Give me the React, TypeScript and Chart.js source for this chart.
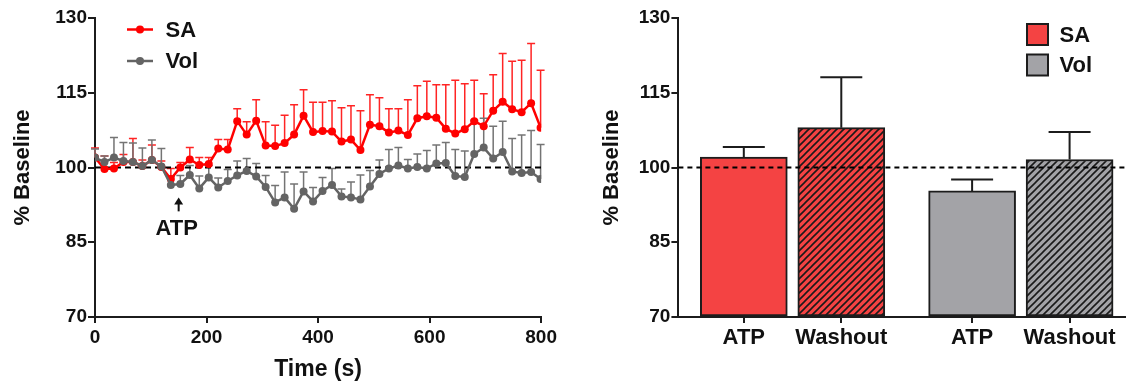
import React, { useEffect, useRef } from 'react';
import { Chart, registerables } from 'chart.js';

Chart.register(...registerables);

// ---------- Data: time course (left panel) ----------
const timeSec = [
  0, 17, 34, 51, 68, 85, 102, 119, 136, 153, 170, 187, 204, 221, 238, 255,
  272, 289, 306, 323, 340, 357, 374, 391, 408, 425, 442, 459, 476, 493, 510, 527,
  544, 561, 578, 595, 612, 629, 646, 663, 680, 697, 714, 731, 748, 765, 782, 799,
];
const saMean = [
  102.0, 99.7, 99.8, 101.1, 101.1, 100.3, 101.5, 100.1, 97.7, 100.0, 101.6, 100.5, 100.7, 103.8, 103.6, 109.3,
  106.6, 109.4, 104.4, 104.3, 104.9, 106.6, 110.4, 107.1, 107.3, 107.2, 105.2, 105.6, 103.5, 108.6, 108.3, 107.0,
  107.4, 106.5, 109.9, 110.3, 110.0, 107.8, 106.8, 107.7, 109.3, 108.3, 111.4, 113.2, 111.7, 111.1, 112.9, 108.0,
];
const saErr = [
  1.9, 2.6, 1.2, 1.5, 4.7, 1.2, 3.0, 1.2, 2.1, 1.0, 2.4, 1.5, 1.3, 1.8, 2.0, 2.5,
  2.6, 4.2, 4.8, 4.2, 5.6, 6.0, 5.2, 6.0, 5.8, 6.2, 6.8, 6.8, 7.9, 6.0, 5.7, 4.8,
  4.4, 7.1, 6.5, 7.0, 6.6, 8.8, 10.7, 9.1, 8.2, 6.5, 7.2, 9.7, 9.6, 10.4, 12.0, 11.5,
];
const volMean = [
  102.0, 101.1, 102.0, 101.3, 101.1, 100.3, 101.5, 100.2, 96.5, 96.7, 98.5, 95.8, 98.0, 96.0, 97.3, 98.4,
  99.3, 98.2, 96.1, 93.0, 94.0, 91.7, 95.2, 93.2, 95.3, 96.5, 94.2, 94.0, 93.6, 96.2, 98.7, 99.8,
  100.4, 99.8, 100.1, 99.8, 100.8, 100.9, 98.3, 98.1, 102.7, 104.0, 101.8, 103.1, 99.2, 98.9, 99.1, 97.7,
];
const volErr = [
  1.7, 1.2, 4.0, 3.7, 3.8, 3.6, 4.0, 3.6, 1.7, 1.7, 1.9, 2.5, 2.4, 1.9, 2.3, 2.9,
  2.5, 2.6, 2.3, 3.4, 5.1, 5.0, 3.9, 2.8, 2.7, 3.3, 1.5, 3.1, 4.9, 3.2, 2.8, 3.8,
  3.6, 1.8, 2.6, 3.6, 3.7, 4.1, 5.3, 5.2, 6.8, 5.9, 6.5, 6.2, 6.6, 7.6, 8.3, 6.9,
];
const baseline = 100;
const yTicks = [70, 85, 100, 115, 130];
const timeTicks = [0, 200, 400, 600, 800];
const atpTime = 150;
const atpArrowTop = 94.0;
const atpArrowBottom = 91.2;
const atpLabelY = 87.8;

// ---------- Data: summary bars (right panel) ----------
const groups = ['SA', 'Vol'];
const conditions = ['ATP', 'Washout'];
const saBarMean = [102.1, 108.0];
const saBarErr = [2.0, 10.1];
const volBarMean = [95.3, 101.6];
const volBarErr = [2.3, 5.5];

// ---------- Styles ----------
const FONT = "'Liberation Sans', Arial, Helvetica, sans-serif";
const AXIS = '#1c1c1c';
const TEXT = '#111111';
const SA_LINE = '#ff0000';
const SA_ERR = '#ff2424';
const VOL_LINE = '#646464';
const VOL_ERR = '#747474';
const SA_FILL = '#f44343';
const VOL_FILL = '#a3a3a7';
const BAR_SPREAD = 0.2135;

const errorBarPlugin = {
  id: 'errorBars',
  beforeDatasetsDraw(chart: any) {
    const ctx = chart.ctx;
    const yScale = chart.scales.y;
    ctx.save();
    chart.data.datasets.forEach((ds: any, di: number) => {
      if (!ds.errors) return;
      const meta = chart.getDatasetMeta(di);
      if (meta.hidden) return;
      ctx.strokeStyle = ds.errorColor;
      ctx.lineWidth = ds.errorWidth;
      meta.data.forEach((el: any, j: number) => {
        const raw = ds.data[j];
        const v = typeof raw === 'number' ? raw : raw.y;
        const top = yScale.getPixelForValue(v + ds.errors[j]);
        const cw = ds.capWidth / 2;
        ctx.beginPath();
        ctx.moveTo(el.x, el.y);
        ctx.lineTo(el.x, top);
        ctx.moveTo(el.x - cw, top);
        ctx.lineTo(el.x + cw, top);
        ctx.stroke();
      });
    });
    ctx.restore();
  },
};

const legendPlugin = {
  id: 'panelLegend',
  afterDraw(chart: any, _args: any, opts: any) {
    if (!opts || !opts.kind) return;
    const ctx = chart.ctx;
    ctx.save();
    ctx.font = `bold ${opts.fontSize}px ${FONT}`;
    ctx.textBaseline = 'middle';
    ctx.textAlign = 'left';
    const items = chart.data.datasets.filter((d: any) => d.inLegend);
    items.forEach((ds: any, i: number) => {
      const cy = opts.y + i * opts.rowGap;
      if (opts.kind === 'line') {
        ctx.strokeStyle = ds.borderColor;
        ctx.lineWidth = 2.5;
        ctx.beginPath();
        ctx.moveTo(opts.x, cy);
        ctx.lineTo(opts.x + opts.markLen, cy);
        ctx.stroke();
        ctx.fillStyle = ds.borderColor;
        ctx.beginPath();
        ctx.arc(opts.x + opts.markLen / 2, cy, 4, 0, Math.PI * 2);
        ctx.fill();
      } else {
        ctx.fillStyle = ds.legendColor;
        ctx.fillRect(opts.x, cy - opts.box / 2, opts.box, opts.box);
        ctx.strokeStyle = AXIS;
        ctx.lineWidth = 2;
        ctx.strokeRect(opts.x, cy - opts.box / 2, opts.box, opts.box);
      }
      ctx.fillStyle = TEXT;
      ctx.fillText(ds.label, opts.textX, cy + 1);
    });
    ctx.restore();
  },
};

const atpPlugin = {
  id: 'atpMarker',
  afterDraw(chart: any, _args: any, opts: any) {
    if (!opts || !opts.enabled) return;
    const ctx = chart.ctx;
    const x = chart.scales.x.getPixelForValue(opts.time);
    const yTop = chart.scales.y.getPixelForValue(opts.top);
    const yBot = chart.scales.y.getPixelForValue(opts.bottom);
    const yLab = chart.scales.y.getPixelForValue(opts.labelY);
    ctx.save();
    ctx.strokeStyle = TEXT;
    ctx.fillStyle = TEXT;
    ctx.lineWidth = 2;
    ctx.beginPath();
    ctx.moveTo(x, yBot);
    ctx.lineTo(x, yTop + 5);
    ctx.stroke();
    ctx.beginPath();
    ctx.moveTo(x, yTop);
    ctx.lineTo(x - 4.5, yTop + 7);
    ctx.lineTo(x + 4.5, yTop + 7);
    ctx.closePath();
    ctx.fill();
    ctx.font = `bold 22px ${FONT}`;
    ctx.textAlign = 'center';
    ctx.textBaseline = 'middle';
    ctx.fillText(opts.text, x - 2, yLab + 1);
    ctx.restore();
  },
};

function yAxis(width: number, titlePad: number) {
  return {
    type: 'linear',
    min: yTicks[0],
    max: yTicks[yTicks.length - 1],
    afterBuildTicks: (s: any) => {
      s.ticks = yTicks.map((v) => ({ value: v }));
    },
    ticks: { color: TEXT, font: { family: FONT, size: 19, weight: 'bold' }, padding: 1 },
    grid: { display: true, drawOnChartArea: false, drawTicks: true, tickLength: 7, color: AXIS, lineWidth: 2 },
    border: { display: true, color: AXIS, width: 2 },
    title: {
      display: true,
      text: '% Baseline',
      color: TEXT,
      font: { family: FONT, size: 22, weight: 'bold' },
      padding: { top: titlePad, bottom: 0 },
    },
    afterFit: (s: any) => {
      s.width = width;
    },
  };
}

function makeHatch(fill: string) {
  const c = document.createElement('canvas');
  const s = 7;
  c.width = s;
  c.height = s;
  const g = c.getContext('2d')!;
  g.fillStyle = fill;
  g.fillRect(0, 0, s, s);
  g.strokeStyle = '#1a1a1a';
  g.lineWidth = 1.6;
  g.beginPath();
  g.moveTo(-1, s + 1);
  g.lineTo(s + 1, -1);
  g.moveTo(-1, 1);
  g.lineTo(1, -1);
  g.moveTo(s - 1, s + 1);
  g.lineTo(s + 1, s - 1);
  g.stroke();
  return g.createPattern(c, 'repeat');
}

function TimeCourse() {
  const ref = useRef<HTMLCanvasElement>(null);
  useEffect(() => {
    const chart = new Chart(ref.current as HTMLCanvasElement, {
      type: 'line',
      data: {
        datasets: [
          {
            label: 'SA',
            inLegend: true,
            data: timeSec.map((t, i) => ({ x: t, y: saMean[i] })),
            errors: saErr,
            errorColor: SA_ERR,
            errorWidth: 1.5,
            capWidth: 8,
            borderColor: SA_LINE,
            backgroundColor: SA_LINE,
            borderWidth: 2.5,
            pointRadius: 4,
            pointBorderWidth: 0,
            pointBackgroundColor: SA_LINE,
            tension: 0,
            order: 2,
          },
          {
            label: 'Vol',
            inLegend: true,
            data: timeSec.map((t, i) => ({ x: t, y: volMean[i] })),
            errors: volErr,
            errorColor: VOL_ERR,
            errorWidth: 1.5,
            capWidth: 8,
            borderColor: VOL_LINE,
            backgroundColor: VOL_LINE,
            borderWidth: 2.5,
            pointRadius: 4,
            pointBorderWidth: 0,
            pointBackgroundColor: VOL_LINE,
            tension: 0,
            order: 1,
          },
          {
            label: 'baseline',
            data: [
              { x: timeTicks[0], y: baseline },
              { x: timeTicks[timeTicks.length - 1], y: baseline },
            ],
            borderColor: '#000000',
            borderWidth: 2,
            borderDash: [6, 4],
            pointRadius: 0,
            order: 3,
          },
        ],
      } as any,
      options: {
        animation: false,
        responsive: false,
        events: [],
        layout: { padding: { left: 0, top: 18, right: 17.5, bottom: 0 } },
        plugins: {
          legend: { display: false },
          tooltip: { enabled: false },
          panelLegend: { kind: 'line', x: 127, y: 29.5, rowGap: 31.5, markLen: 26, textX: 165.5, fontSize: 22 },
          atpMarker: { enabled: true, time: atpTime, top: atpArrowTop, bottom: atpArrowBottom, labelY: atpLabelY, text: 'ATP' },
        },
        scales: {
          x: {
            type: 'linear',
            min: timeTicks[0],
            max: timeTicks[timeTicks.length - 1],
            afterBuildTicks: (s: any) => {
              s.ticks = timeTicks.map((v) => ({ value: v }));
            },
            ticks: { color: TEXT, font: { family: FONT, size: 19, weight: 'bold' }, padding: 3, maxRotation: 0 },
            grid: { display: true, drawOnChartArea: false, drawTicks: true, tickLength: 6, color: AXIS, lineWidth: 2 },
            border: { display: true, color: AXIS, width: 2 },
            title: {
              display: true,
              text: 'Time (s)',
              color: TEXT,
              font: { family: FONT, size: 23, weight: 'bold' },
              padding: { top: 0, bottom: 3 },
            },
            afterFit: (s: any) => {
              s.height = 69;
            },
          },
          y: yAxis(95, 9.3),
        },
      } as any,
      plugins: [errorBarPlugin, legendPlugin, atpPlugin],
    });
    return () => chart.destroy();
  }, []);
  return (
    <canvas
      ref={ref}
      width={560}
      height={386}
      style={{ position: 'absolute', left: 0, top: 0, width: 560, height: 386 }}
    />
  );
}

function SummaryBars() {
  const ref = useRef<HTMLCanvasElement>(null);
  useEffect(() => {
    const hatchSA = makeHatch(SA_FILL);
    const hatchVol = makeHatch(VOL_FILL);
    const barX = (gi: number, ci: number) => gi + (ci === 0 ? -BAR_SPREAD : BAR_SPREAD);
    const barDataset = (gi: number, means: number[], errs: number[], fill: string, hatch: any) => ({
      type: 'bar',
      label: groups[gi],
      inLegend: true,
      legendColor: fill,
      data: conditions.map((_, ci) => ({ x: barX(gi, ci), y: means[ci] })),
      errors: errs,
      errorColor: AXIS,
      errorWidth: 2,
      capWidth: 42,
      backgroundColor: (c: any) => (c.dataIndex === 1 ? hatch : fill),
      borderColor: AXIS,
      borderWidth: 2,
      borderSkipped: false,
      barThickness: 87,
      grouped: false,
      base: yTicks[0],
      order: 2,
    });
    const chart = new Chart(ref.current as HTMLCanvasElement, {
      type: 'bar',
      data: {
        datasets: [
          barDataset(0, saBarMean, saBarErr, SA_FILL, hatchSA),
          barDataset(1, volBarMean, volBarErr, VOL_FILL, hatchVol),
          {
            type: 'line',
            label: 'baseline',
            data: [
              { x: -0.5, y: baseline },
              { x: groups.length - 0.5, y: baseline },
            ],
            borderColor: '#000000',
            borderWidth: 2,
            borderDash: [5, 4],
            pointRadius: 0,
            order: 0,
          },
        ],
      } as any,
      options: {
        animation: false,
        responsive: false,
        events: [],
        layout: { padding: { left: 0, top: 18, right: 0, bottom: 0 } },
        plugins: {
          legend: { display: false },
          tooltip: { enabled: false },
          panelLegend: { kind: 'box', x: 467, y: 34.5, rowGap: 30.5, box: 21, textX: 499.5, fontSize: 22 },
        },
        scales: {
          x: {
            type: 'linear',
            offset: false,
            min: -0.5,
            max: groups.length - 0.5,
            afterBuildTicks: (s: any) => {
              s.ticks = groups.flatMap((_, gi) => conditions.map((__, ci) => ({ value: barX(gi, ci) })));
            },
            ticks: {
              color: TEXT,
              font: { family: FONT, size: 22, weight: 'bold' },
              padding: 2,
              autoSkip: false,
              maxRotation: 0,
              minRotation: 0,
              callback: (_v: any, i: number) => conditions[i % conditions.length],
            },
            grid: {
              display: true,
              offset: false,
              drawOnChartArea: false,
              drawTicks: true,
              tickLength: 6,
              color: AXIS,
              lineWidth: 2,
            },
            border: { display: true, color: AXIS, width: 2 },
            afterFit: (s: any) => {
              s.height = 69;
            },
          },
          y: yAxis(118.4, 38.8),
        },
      } as any,
      plugins: [errorBarPlugin, legendPlugin],
    });
    return () => chart.destroy();
  }, []);
  return (
    <canvas
      ref={ref}
      width={575}
      height={386}
      style={{ position: 'absolute', left: 560, top: 0, width: 575, height: 386 }}
    />
  );
}

export default function App() {
  return (
    <div
      style={{
        position: 'absolute',
        left: 0,
        top: 0,
        width: 1126,
        height: 386,
        overflow: 'hidden',
        background: '#ffffff',
      }}
    >
      <TimeCourse />
      <SummaryBars />
    </div>
  );
}
